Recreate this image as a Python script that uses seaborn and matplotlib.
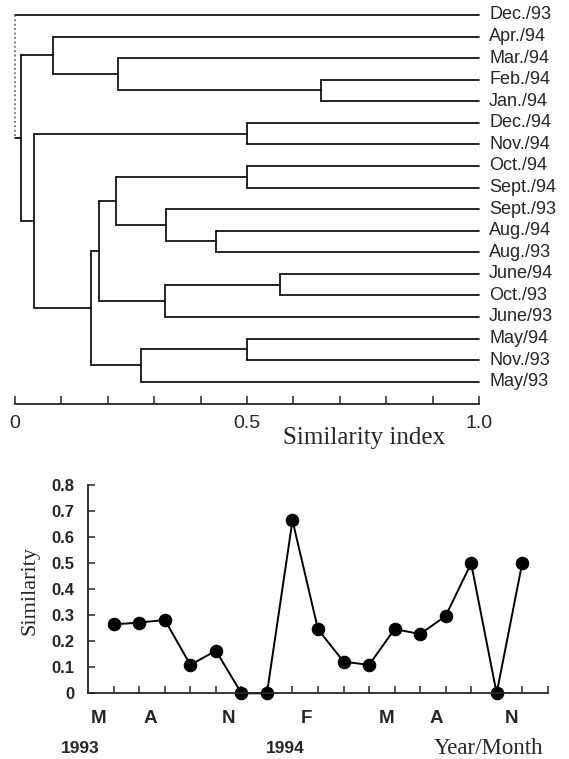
import numpy as np
import pandas as pd
import matplotlib
matplotlib.use("Agg")
import matplotlib.pyplot as plt
import seaborn as sns

# dendrogram leaves, top to bottom
leaves = ["Dec./93", "Apr./94", "Mar./94", "Feb./94", "Jan./94", "Dec./94",
          "Nov./94", "Oct./94", "Sept./94", "Sept./93", "Aug./94", "Aug./93",
          "June/94", "Oct./93", "June/93", "May/94", "Nov./93", "May/93"]

# merges, new clusters get ids from len(leaves) on
merge_a = [3, 2, 1, 5, 7, 10, 9, 22, 12, 26, 25, 15, 29, 28, 21, 20, 0]
merge_b = [4, 18, 19, 6, 8, 11, 23, 24, 13, 14, 27, 16, 17, 30, 31, 32, 33]
merge_sim = [0.66, 0.222, 0.082, 0.50, 0.50, 0.433, 0.326, 0.217, 0.572,
             0.324, 0.181, 0.50, 0.272, 0.164, 0.042, 0.012, 0.0]

# similarity between consecutive sampling months
pair_idx = list(range(1, 18))
pair_sim = [0.265, 0.272, 0.282, 0.109, 0.164, 0.0, 0.0, 0.665, 0.246,
            0.122, 0.109, 0.247, 0.228, 0.297, 0.50, 0.0, 0.50]

month_labels = ["M", "A", "N", "F", "M", "A", "N"]
year_labels = ["1993", "1994"]

sns.set_style("ticks")
plt.rcParams["font.family"] = ["Liberation Sans", "DejaVu Sans"]
serif = ["Liberation Serif", "DejaVu Serif"]

fig = plt.figure(figsize=(5.69, 7.59), dpi=100)

# ---- dendrogram ----
ax1 = fig.add_axes([15 / 569, 1 - 404.3 / 759, 464 / 569, 394.3 / 759])
pos = {i: float(i) for i in range(len(leaves))}
top = {i: 1.0 for i in range(len(leaves))}
lw = 1.2
for k, (a, b, s) in enumerate(zip(merge_a, merge_b, merge_sim)):
    new = len(leaves) + k
    ya, yb = pos[a], pos[b]
    ax1.plot([s, top[a]], [ya, ya], color="black", lw=lw, clip_on=False)
    ax1.plot([s, top[b]], [yb, yb], color="black", lw=lw, clip_on=False)
    last = k == len(merge_a) - 1
    ax1.plot([s, s], [ya, yb], color="0.35" if last else "black",
             lw=lw, ls=":" if last else "-", clip_on=False)
    pos[new] = (ya + yb) / 2
    top[new] = s

for i, name in enumerate(leaves):
    ax1.text(1.022, i, name, ha="left", va="center", fontsize=13)

ax1.set_xlim(0, 1.0)
ax1.set_ylim(18.05, -0.23)
sns.despine(ax=ax1, left=True, top=True, right=True)
ax1.set_yticks([])
ax1.set_xticks(np.arange(0, 1.01, 0.1))
ax1.set_xticklabels(["0", "", "", "", "", "0.5", "", "", "", "", "1.0"], fontsize=14)
ax1.tick_params(axis="x", direction="in", length=6, width=1.1, pad=8)
ax1.spines["bottom"].set_linewidth(1.3)
ax1.text(0.752, -0.085, "Similarity index", transform=ax1.get_xaxis_transform(),
         ha="center", va="center", fontsize=18, family=serif)

# ---- consecutive similarity ----
ax2 = fig.add_axes([88.3 / 569, 1 - 693.3 / 759, 459.4 / 569, 208 / 759])
df = pd.DataFrame({"pair": pair_idx, "sim": pair_sim})
sns.lineplot(data=df, x="pair", y="sim", ax=ax2, color="black", lw=1.4,
             marker="o", markersize=9, markeredgecolor="black", clip_on=False)
ax2.set_xlim(0, 18)
ax2.set_ylim(0, 0.8)
sns.despine(ax=ax2)
ax2.set_xticks(range(1, 19))
ax2.set_xticklabels([])
ax2.set_yticks(np.arange(0, 0.81, 0.1))
ax2.set_yticklabels(["0"] + ["%.1f" % v for v in np.arange(0.1, 0.81, 0.1)],
                    fontsize=12, fontweight="bold")
ax2.tick_params(axis="both", direction="in", length=5, width=1.1)
ax2.tick_params(axis="y", pad=10)
ax2.spines["left"].set_linewidth(1.3)
ax2.spines["bottom"].set_linewidth(1.3)
ax2.set_xlabel("")
ax2.set_ylabel("")

tr = ax2.get_xaxis_transform()
for lab, x in zip(month_labels, [0.39, 2.42, 5.49, 8.56, 11.67, 13.63, 16.59]):
    ax2.text(x, -0.119, lab, transform=tr, ha="center", va="center",
             fontsize=13.5, fontweight="bold")
for lab, x in zip(year_labels, [-0.33, 7.71]):
    ax2.text(x, -0.264, lab, transform=tr, ha="center", va="center",
             fontsize=12.5, fontweight="bold")
ax2.text(15.7, -0.263, "Year/Month", transform=tr, ha="center", va="center",
         fontsize=16.5, family=serif)
ax2.text(-0.127, 0.397, "Similarity", transform=ax2.get_yaxis_transform(),
         ha="center", va="center", rotation=90, fontsize=16, family=serif)

fig.savefig("out.png", dpi=100)
